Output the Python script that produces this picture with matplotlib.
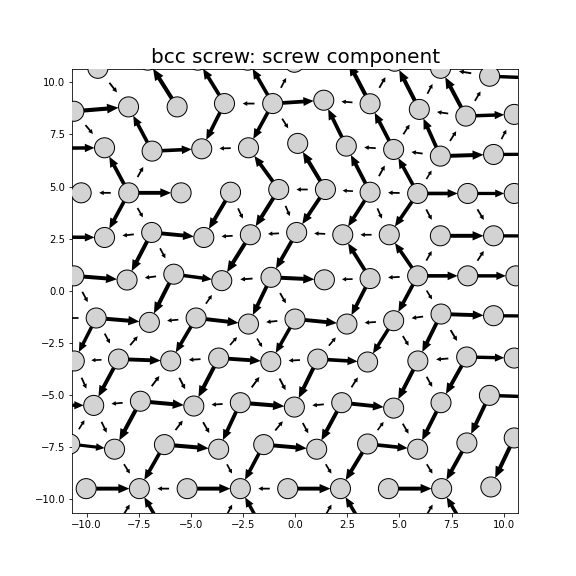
import numpy as np
import matplotlib
matplotlib.use("Agg")
import matplotlib.pyplot as plt
from matplotlib.patches import Circle

# projected atom columns, one list per row (top row first)
# column index c: neighbours are (r, c+2), (r+1, c-1), (r+1, c+1)
ROW_COLS = [
    [-1, 1, 3, 5, 7, 9, 11, 13, 15, 17, 19],
    [0, 2, 4, 6, 8, 10, 12, 14, 16, 18],
    [-1, 1, 3, 5, 7, 9, 11, 13, 15, 17, 19],
    [0, 2, 4, 6, 8, 10, 12, 14, 16, 18],
    [-1, 1, 3, 5, 7, 9, 11, 13, 15, 17, 19],
    [0, 2, 4, 6, 8, 10, 12, 14, 16, 18],
    [-1, 1, 3, 5, 7, 9, 11, 13, 15, 17, 19],
    [0, 2, 4, 6, 8, 10, 12, 14, 16, 18],
    [-1, 1, 3, 5, 7, 9, 11, 13, 15, 17, 19],
    [0, 2, 4, 6, 8, 10, 12, 14, 16, 18],
    [-1, 1, 3, 5, 7, 9, 11, 13, 15, 17, 19],
    [2, 4, 6, 8, 10, 12, 14, 16, 18],
]

ATOM_X = [
    [-11.76, -9.46, -7.07, -4.67, -2.28, -0.04, 2.37, 4.77, 6.97, 9.32, 11.62],
    [-10.61, -7.99, -5.66, -3.39, -1.08, 1.37, 3.59, 5.95, 8.18, 10.50],
    [-11.48, -9.14, -6.86, -4.48, -2.24, 0.12, 2.45, 4.72, 6.96, 9.51, 11.76],
    [-10.26, -7.98, -5.47, -3.10, -0.79, 1.45, 3.59, 5.87, 8.27, 10.50],
    [-11.48, -9.14, -6.88, -4.38, -2.15, 0.07, 2.28, 4.51, 6.96, 9.51, 11.76],
    [-10.61, -8.06, -5.82, -3.52, -1.16, 1.40, 3.59, 5.87, 8.27, 10.58],
    [-11.76, -9.54, -6.99, -4.75, -2.24, -0.01, 2.48, 4.72, 6.99, 9.51, 11.76],
    [-10.59, -8.47, -5.97, -3.67, -1.17, 1.08, 3.47, 5.88, 8.22, 10.50],
    [-11.95, -9.66, -7.42, -4.86, -2.63, -0.04, 2.23, 4.72, 6.99, 9.31, 11.62],
    [-10.81, -8.66, -6.27, -3.67, -1.51, 1.03, 3.47, 5.87, 8.23, 10.50],
    [-12.34, -10.02, -7.47, -5.18, -2.63, -0.36, 2.17, 4.47, 7.02, 9.38, 11.67],
    [-8.70, -6.30, -3.67, -1.51, 1.03, 3.38, 5.87, 8.22, 10.52],
]

ATOM_Y = [
    [10.96, 10.67, 11.06, 11.06, 11.06, 10.96, 11.30, 11.01, 10.67, 10.29, 10.20],
    [8.61, 8.82, 8.82, 8.98, 8.98, 9.14, 8.97, 8.70, 8.38, 8.46],
    [6.84, 6.86, 6.70, 6.81, 6.86, 7.07, 6.94, 6.78, 6.46, 6.54, 6.55],
    [4.70, 4.70, 4.70, 4.73, 4.86, 4.86, 4.73, 4.67, 4.67, 4.67],
    [2.58, 2.56, 2.80, 2.56, 2.69, 2.80, 2.69, 2.69, 2.64, 2.64, 2.63],
    [0.72, 0.52, 0.80, 0.49, 0.65, 0.53, 0.59, 0.72, 0.72, 0.72],
    [-1.30, -1.30, -1.51, -1.30, -1.59, -1.35, -1.59, -1.43, -1.11, -1.19, -1.21],
    [-3.36, -3.27, -3.36, -3.22, -3.39, -3.27, -3.41, -3.36, -3.17, -3.22],
    [-5.47, -5.49, -5.29, -5.52, -5.36, -5.57, -5.36, -5.62, -5.36, -5.01, -5.09],
    [-7.34, -7.59, -7.37, -7.59, -7.37, -7.59, -7.34, -7.59, -7.29, -7.05],
    [-9.50, -9.48, -9.48, -9.48, -9.48, -9.48, -9.48, -9.48, -9.48, -9.40, -9.40],
    [-11.51, -11.51, -11.51, -11.51, -11.51, -11.51, -11.51, -11.51, -11.51],
]

# differential displacement of each bond as a fraction of a full arrow,
# sign > 0 means the arrow points from the atom towards its neighbour
BOND_RIGHT = [
    [0, 0, 0, 0, 0, 0, 0, 0, -.42, 1, 0],
    [1, 0, 0, -.42, 1, -.42, 0, -.42, 1, 0],
    [1, 0, 1, -.42, 0, 0, -.42, -.42, 1, 1, 0],
    [-.42, 1, 0, 0, -.42, -.42, -.42, 1, 1, 0],
    [1, -.42, 1, -.42, -.42, -.42, -.42, 0, 1, 1, 0],
    [1, -.42, 1, -.42, 1, -.42, -.42, 1, 1, 0],
    [-.42, 1, -.42, 1, -.42, 1, -.42, -.42, 1, 1, 0],
    [-.42, 1, -.42, 1, -.42, 1, 0, -.42, 1, 0],
    [1, -.42, 1, -.42, 1, -.42, 1, 0, 0, 1, 0],
    [1, 0, 1, 0, 1, 0, 1, 0, 0, 0],
    [0, 1, -.42, 1, -.42, 1, 0, 1, 0, 0, 0],
    [0, 0, 0, 0, 0, 0, 0, 0, 0],
]

BOND_DOWN_LEFT = [
    [0, 0, 0, 0, 0, -.42, 0, -.42, -.42, -.42, 0],
    [0, 0, 0, 1, 1, 0, 0, -.42, -.42, -.42],
    [0, 0, -.42, 0, 0, 0, 0, -.42, -.42, 0, 0],
    [0, 1, 0, 1, 1, 1, 1, 1, 0, 0],
    [0, 0, 1, 0, 1, 1, 0, 0, -.42, -.42, 0],
    [0, 0, 1, -.42, 1, 0, 1, 1, 0, 0],
    [0, 1, -.42, 1, -.42, 1, -.42, 1, 1, 0, 0],
    [0, 1, -.42, 1, -.42, 1, -.42, 1, 1, 0],
    [0, -.42, 1, -.42, 1, -.42, 1, -.42, 1, 1, 0],
    [0, 0, 1, 0, 1, 0, 1, 0, 1, 1],
    [0, 0, -.42, 0, -.42, 0, -.42, 0, -.42, 0, 0],
    [0, 0, 0, 0, 0, 0, 0, 0, 0],
]

BOND_DOWN_RIGHT = [
    [0, .42, -1, -1, -1, 0, -1, -1, -1, 0, 0],
    [.42, -1, 0, 0, .42, -1, -1, -1, 0, 0],
    [0, -1, 0, 0, -1, -1, -1, -1, 0, 0, 0],
    [0, .42, 0, .42, .42, 0, .42, .42, .42, 0],
    [0, 0, .42, 0, 0, 0, -1, -1, 0, 0, 0],
    [.42, 0, 0, 0, .42, 0, 0, .42, 0, 0],
    [0, .42, 0, 0, .42, 0, 0, .42, .42, 0, 0],
    [.42, 0, .42, 0, .42, 0, 0, .42, 0, 0],
    [0, .42, 0, .42, 0, .42, 0, .42, 0, 0, 0],
    [0, .42, 0, .42, 0, .42, 0, .42, 0, 0],
    [0, 0, -1, 0, -1, 0, -1, 0, -1, 0, 0],
    [0, 0, 0, 0, 0, 0, 0, 0, 0],
]

ATOM_R = 0.48

fig, ax = plt.subplots(figsize=(8, 8), dpi=72)

pos = {}
for r, cols in enumerate(ROW_COLS):
    for k, c in enumerate(cols):
        pos[(r, c)] = (ATOM_X[r][k], ATOM_Y[r][k])


def draw_bond(a, b, v):
    if v == 0 or b not in pos:
        return
    p, q = np.array(pos[a]), np.array(pos[b])
    d = q - p
    dist = np.hypot(*d)
    u = d / dist * np.sign(v)
    L = abs(v) * (dist - 2 * ATOM_R)
    start = (p + q) / 2 - u * L / 2
    ax.arrow(start[0], start[1], u[0] * L, u[1] * L,
             width=0.1 * L + 0.03, head_width=0.22 * L + 0.1,
             head_length=0.3 * L + 0.05,
             length_includes_head=True, fc="k", ec="k", lw=0, zorder=2)


for r, cols in enumerate(ROW_COLS):
    for k, c in enumerate(cols):
        draw_bond((r, c), (r, c + 2), BOND_RIGHT[r][k])
        draw_bond((r, c), (r + 1, c - 1), BOND_DOWN_LEFT[r][k])
        draw_bond((r, c), (r + 1, c + 1), BOND_DOWN_RIGHT[r][k])

for (x, y) in pos.values():
    ax.add_patch(Circle((x, y), ATOM_R, fc="lightgray", ec="k", lw=1, zorder=3))

ax.set_xlim(-10.7, 10.7)
ax.set_ylim(-10.63, 10.63)
ax.set_aspect("equal")
ax.set_title("bcc screw: screw component", fontsize=20)

fig.savefig("out.png", dpi=72)
